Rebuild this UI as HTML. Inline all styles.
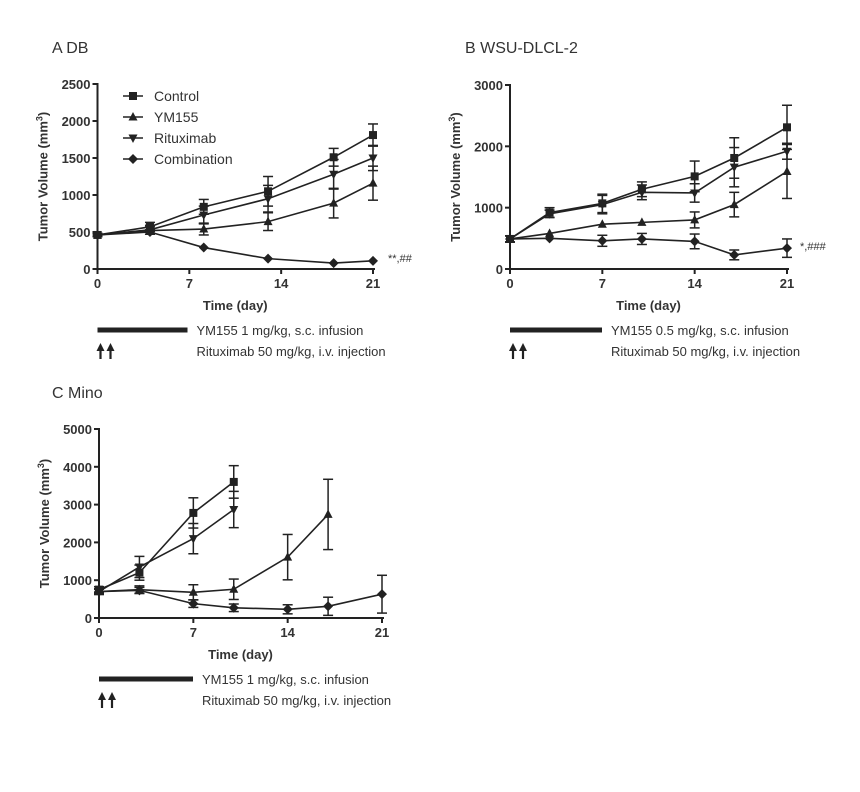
<!DOCTYPE html>
<html><head><meta charset="utf-8"><style>
html,body{margin:0;padding:0;background:#fff;}
svg{display:block;font-family:"Liberation Sans",sans-serif;}
</style></head><body>
<svg id="s" width="860" height="792" viewBox="0 0 860 792" xmlns="http://www.w3.org/2000/svg">
<rect width="860" height="792" fill="#fff"/>
<text x="52" y="53" font-size="16" fill="#333">A  DB</text>
<text x="465" y="53" font-size="16" fill="#333">B  WSU-DLCL-2</text>
<text x="52" y="398" font-size="16" fill="#333">C  Mino</text>
</svg>
<script>
const S=document.getElementById('s');const NS='http://www.w3.org/2000/svg';
function el(t,a,txt){const e=document.createElementNS(NS,t);for(const k in a)e.setAttribute(k,a[k]);if(txt!==undefined)e.textContent=txt;S.appendChild(e);return e;}
const C='#222';
function marker(type,x,y){
 if(type=='sq')el('rect',{x:x-4,y:y-4,width:8,height:8,fill:C});
 else if(type=='up')el('polygon',{points:`${x},${y-5} ${x-4.5},${y+3.5} ${x+4.5},${y+3.5}`,fill:C});
 else if(type=='dn')el('polygon',{points:`${x},${y+5} ${x-4.5},${y-3.5} ${x+4.5},${y-3.5}`,fill:C});
 else el('polygon',{points:`${x},${y-5} ${x+5},${y} ${x},${y+5} ${x-5},${y}`,fill:C});
}
function panel(p){
 const X=d=>p.x0+d*(p.x21-p.x0)/21, Y=v=>p.y0-v*(p.y0-p.ytop)/p.ymax;
 el('line',{x1:p.x0,y1:p.ytop-1,x2:p.x0,y2:p.y0+1,stroke:C,'stroke-width':2});
 el('line',{x1:p.x0-1,y1:p.y0,x2:p.x21+2,y2:p.y0,stroke:C,'stroke-width':2});
 for(let i=0;i<=p.nt;i++){const v=i*p.ymax/p.nt,y=Y(v);
  el('line',{x1:p.x0-5,y1:y,x2:p.x0,y2:y,stroke:C,'stroke-width':2});
  el('text',{x:p.x0-7,y:y+5,'font-size':13,'font-weight':'bold','text-anchor':'end',fill:'#333'},v);}
 [0,7,14,21].forEach(d=>{const x=X(d);el('line',{x1:x,y1:p.y0,x2:x,y2:p.y0+5,stroke:C,'stroke-width':2});
  el('text',{x:x,y:p.y0+19,'font-size':13,'font-weight':'bold','text-anchor':'middle',fill:'#333'},d);});
 el('text',{x:(p.x0+p.x21)/2,y:p.y0+41,'font-size':13,'font-weight':'bold','text-anchor':'middle',fill:'#333'},'Time (day)');
 const ty=(p.y0+p.ytop)/2, tx=p.x0-50;
 const t=el('text',{x:0,y:0,'font-size':13,'font-weight':'bold','text-anchor':'middle',fill:'#333',transform:`translate(${tx},${ty}) rotate(-90)`});
 t.innerHTML='Tumor Volume (mm<tspan dy="-5" font-size="9">3</tspan><tspan dy="5">)</tspan>';
 p.series.forEach(s=>{
  const pts=s.d.map(q=>[X(q[0]),Y(q[1])]);
  el('polyline',{points:pts.map(q=>q.join(',')).join(' '),fill:'none',stroke:C,'stroke-width':1.6});
  s.d.forEach((q,i)=>{const e=q[2]||0;if(e>0){const x=pts[i][0];
   el('line',{x1:x,y1:Y(q[1]-e),x2:x,y2:Y(q[1]+e),stroke:C,'stroke-width':1.5});
   el('line',{x1:x-5,y1:Y(q[1]-e),x2:x+5,y2:Y(q[1]-e),stroke:C,'stroke-width':1.5});
   el('line',{x1:x-5,y1:Y(q[1]+e),x2:x+5,y2:Y(q[1]+e),stroke:C,'stroke-width':1.5});}
   marker(s.m,pts[i][0],pts[i][1]);});
 });
 const bx=p.x0, by=p.y0+61;
 el('rect',{x:bx,y:by-2.5,width:p.bw,height:5,fill:C});
 el('text',{x:bx+p.bw+9,y:by+5,'font-size':13,fill:'#333'},p.t1);
 el('text',{x:bx+p.bw+9,y:by+26,'font-size':13,fill:'#333'},'Rituximab 50 mg/kg, i.v. injection');
 [bx+3,bx+13].forEach(ax=>{el('line',{x1:ax,y1:by+20,x2:ax,y2:by+29,stroke:C,'stroke-width':2.2});
  el('polygon',{points:`${ax},${by+13} ${ax-4},${by+21} ${ax+4},${by+21}`,fill:C});});
 if(p.ann)el('text',{x:p.ann[0],y:p.ann[1],'font-size':11,fill:'#333'},p.ann[2]);
}
panel({x0:97.5,x21:373,y0:269,ytop:84,ymax:2500,nt:5,bw:90,t1:'YM155 1 mg/kg, s.c. infusion',ann:[388,262,'**,##'],series:[
 {m:'sq',d:[[0,460,20],[4,570,60],[8.1,840,100],[13,1050,200],[18,1510,120],[21,1810,150]]},
 {m:'up',d:[[0,460,20],[4,520,50],[8.1,540,80],[13,640,120],[18,890,200],[21,1160,230]]},
 {m:'dn',d:[[0,460,20],[4,530,60],[8.1,730,120],[13,950,180],[18,1280,200],[21,1500,170]]},
 {m:'di',d:[[0,460,20],[4,500,30],[8.1,290,0],[13,140,0],[18,80,0],[21,110,0]]}]});
panel({x0:510,x21:787,y0:269,ytop:85,ymax:3000,nt:3,bw:92,t1:'YM155 0.5 mg/kg, s.c. infusion',ann:[800,250,'*,###'],series:[
 {m:'sq',d:[[0,490,50],[3,920,80],[7,1070,150],[10,1300,120],[14,1510,250],[17,1810,330],[21,2310,360]]},
 {m:'dn',d:[[0,490,50],[3,900,60],[7,1050,150],[10,1250,120],[14,1240,150],[17,1660,320],[21,1920,130]]},
 {m:'up',d:[[0,490,50],[3,580,0],[7,730,0],[10,760,0],[14,800,130],[17,1050,200],[21,1590,440]]},
 {m:'di',d:[[0,490,50],[3,500,0],[7,460,90],[10,490,90],[14,450,120],[17,230,80],[21,340,150]]}]});
panel({x0:99,x21:382,y0:618,ytop:429,ymax:5000,nt:5,bw:94,t1:'YM155 1 mg/kg, s.c. infusion',series:[
 {m:'sq',d:[[0,750,80],[3,1200,200],[7,2780,400],[10,3600,430]]},
 {m:'dn',d:[[0,700,80],[3,1350,280],[7,2100,400],[10,2870,480]]},
 {m:'up',d:[[0,700,60],[3,750,100],[7,680,200],[10,760,270],[14,1610,600],[17,2740,930]]},
 {m:'di',d:[[0,700,60],[3,730,80],[7,380,100],[10,270,100],[14,230,120],[17,310,240],[21,630,500]]}]});
[['sq','Control'],['up','YM155'],['dn','Rituximab'],['di','Combination']].forEach((l,i)=>{const y=96+i*21;
 el('line',{x1:123,y1:y,x2:143,y2:y,stroke:C,'stroke-width':1.6});marker(l[0],133,y);
 el('text',{x:154,y:y+5,'font-size':14,fill:'#333'},l[1]);});
</script>
</body></html>
